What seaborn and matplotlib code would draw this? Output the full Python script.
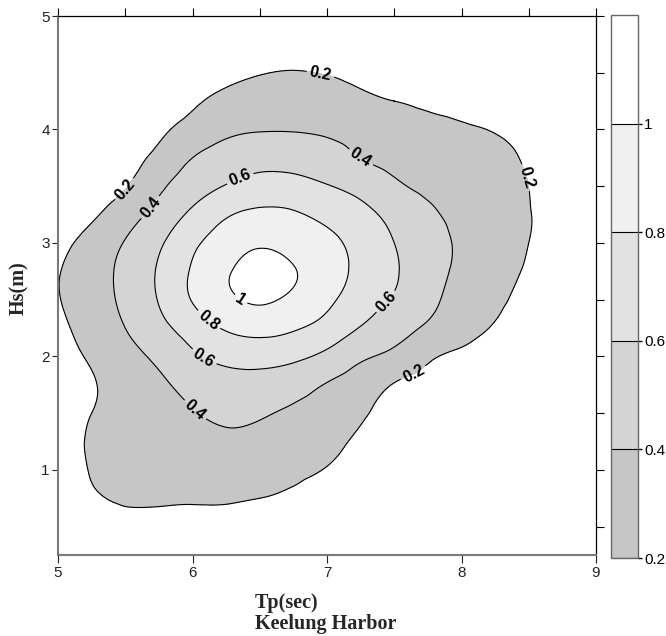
import numpy as np
import matplotlib
matplotlib.use("Agg")
import matplotlib.pyplot as plt
import matplotlib.tri as mtri
import seaborn as sns

# ---- data ----
TP = [5.0, 5.25, 5.5, 5.75, 6.0, 6.25, 6.5, 6.75, 7.0, 7.25, 7.5, 7.75, 8.0, 8.25, 8.5, 8.75, 9.0]
HS = [5.0, 4.75, 4.5, 4.25, 4.0, 3.75, 3.5, 3.25, 3.0, 2.75, 2.5, 2.25, 2.0, 1.75, 1.5, 1.25, 1.0, 0.75, 0.5, 0.25]
row_500 = [0, 0, 0, 0, 0, 0, 0, 0, 0, 0, 0, 0, 0, 0, 0, 0, 0]
row_475 = [0, 0, 0, 0, 0, 0.03, 0.07, 0.09, 0.06, 0.02, 0, 0, 0, 0, 0, 0, 0]
row_450 = [0, 0, 0, 0, 0.07, 0.14, 0.19, 0.21, 0.19, 0.14, 0.08, 0.04, 0, 0, 0, 0, 0]
row_425 = [0, 0, 0, 0.07, 0.17, 0.25, 0.29, 0.30, 0.28, 0.24, 0.20, 0.16, 0.12, 0.08, 0.01, 0, 0]
row_400 = [0, 0, 0.05, 0.16, 0.27, 0.36, 0.39, 0.39, 0.37, 0.33, 0.28, 0.25, 0.22, 0.19, 0.10, 0, 0]
row_375 = [0, 0, 0.12, 0.25, 0.40, 0.48, 0.52, 0.52, 0.48, 0.40, 0.35, 0.31, 0.28, 0.24, 0.17, 0.03, 0]
row_350 = [0, 0.08, 0.19, 0.36, 0.51, 0.61, 0.68, 0.67, 0.61, 0.53, 0.43, 0.37, 0.33, 0.27, 0.20, 0.07, 0]
row_325 = [0.06, 0.17, 0.31, 0.47, 0.64, 0.78, 0.84, 0.82, 0.75, 0.66, 0.54, 0.43, 0.35, 0.28, 0.21, 0.07, 0]
row_300 = [0.14, 0.27, 0.41, 0.57, 0.76, 0.90, 0.98, 0.93, 0.85, 0.73, 0.60, 0.48, 0.37, 0.29, 0.20, 0.06, 0]
row_275 = [0.19, 0.31, 0.45, 0.62, 0.82, 0.98, 1.05, 1.01, 0.89, 0.75, 0.62, 0.48, 0.36, 0.27, 0.17, 0.03, 0]
row_250 = [0.19, 0.31, 0.44, 0.61, 0.81, 0.96, 1.02, 0.96, 0.84, 0.70, 0.58, 0.45, 0.33, 0.24, 0.12, 0, 0]
row_225 = [0.15, 0.28, 0.40, 0.54, 0.69, 0.82, 0.87, 0.82, 0.73, 0.59, 0.48, 0.37, 0.27, 0.18, 0.05, 0, 0]
row_200 = [0.10, 0.23, 0.34, 0.44, 0.57, 0.65, 0.67, 0.64, 0.55, 0.43, 0.35, 0.23, 0.16, 0.08, 0, 0, 0]
row_175 = [0.05, 0.18, 0.29, 0.37, 0.46, 0.53, 0.53, 0.48, 0.39, 0.31, 0.19, 0.12, 0.05, 0, 0, 0, 0]
row_150 = [0.05, 0.20, 0.27, 0.34, 0.39, 0.44, 0.42, 0.37, 0.31, 0.23, 0.10, 0.01, 0, 0, 0, 0, 0]
row_125 = [0.09, 0.22, 0.27, 0.32, 0.34, 0.36, 0.35, 0.31, 0.25, 0.16, 0.04, 0, 0, 0, 0, 0, 0]
row_100 = [0.09, 0.21, 0.26, 0.27, 0.29, 0.29, 0.28, 0.24, 0.19, 0.08, 0, 0, 0, 0, 0, 0, 0]
row_075 = [0.05, 0.17, 0.22, 0.22, 0.22, 0.22, 0.20, 0.16, 0.08, 0, 0, 0, 0, 0, 0, 0, 0]
row_050 = [0, 0.07, 0.13, 0.13, 0.12, 0.11, 0.08, 0.04, 0, 0, 0, 0, 0, 0, 0, 0, 0]
row_025 = [0, 0, 0, 0, 0, 0, 0, 0, 0, 0, 0, 0, 0, 0, 0, 0, 0]
LEVELS = [0.2, 0.4, 0.6, 0.8, 1.0, 1.2]
LINE_LEVELS = [0.2, 0.4, 0.6, 0.8, 1.0]
CBAR_TICKS = [0.2, 0.4, 0.6, 0.8, 1.0]
CBAR_LABELS = ["0.2", "0.4", "0.6", "0.8", "1"]
X_TICKS = [5, 6, 7, 8, 9]
Y_TICKS = [1, 2, 3, 4, 5]

rows = [row_500, row_475, row_450, row_425, row_400, row_375, row_350, row_325,
        row_300, row_275, row_250, row_225, row_200, row_175, row_150, row_125,
        row_100, row_075, row_050, row_025]
Z = np.array(rows, float)
X, Y = np.meshgrid(np.array(TP), np.array(HS))

sns.set_theme(style="white")
plt.rcParams["font.family"] = ["Liberation Sans", "DejaVu Sans"]
SERIF = ["Liberation Serif", "DejaVu Serif"]

fig = plt.figure(figsize=(6.66, 6.36), dpi=100)
ax = fig.add_axes([58 / 666, 81 / 636, 538 / 666, 539 / 636])
cax = fig.add_axes([611 / 666, 78 / 636, 27 / 666, 543 / 636])

tri = mtri.Triangulation(X.ravel(), Y.ravel())
refiner = mtri.UniformTriRefiner(tri)
tri_f, z_f = refiner.refine_field(Z.ravel(), subdiv=4)

fills = ["#c6c6c6", "#d4d4d4", "#e2e2e2", "#f0f0f0", "#ffffff"]
cf = ax.tricontourf(tri_f, z_f, levels=LEVELS, colors=fills)
cs = ax.tricontour(tri_f, z_f, levels=LINE_LEVELS, colors="black", linewidths=0.8)

label_pos = [(6.95, 4.48), (8.49, 3.58), (7.64, 1.86), (5.50, 3.47),
             (5.68, 3.32), (7.25, 3.75), (6.02, 1.53),
             (6.35, 3.58), (7.45, 2.47), (6.09, 2.00),
             (6.12, 2.32), (6.34, 2.47)]
fmt = {0.2: "0.2", 0.4: "0.4", 0.6: "0.6", 0.8: "0.8", 1.0: "1"}
labels = ax.clabel(cs, fmt=fmt, fontsize=11.5, manual=label_pos, inline=True, inline_spacing=3)
for t in labels:
    t.set_fontweight("bold")
    t.set_color("black")

ax.set_xlim(5, 9)
ax.set_ylim(0.25, 5.0)
ax.set_xticks(X_TICKS)
ax.set_yticks(Y_TICKS)
ax.set_xticklabels([str(v) for v in X_TICKS])
ax.set_yticklabels([str(v) for v in Y_TICKS])
ax.tick_params(axis="both", direction="out", length=6, width=0.8, colors="#222222",
               labelsize=11, pad=2, bottom=True, left=True)
ax.tick_params(axis="y", length=4)
for side in ("left", "bottom"):
    ax.spines[side].set_color("#7a7a7a")
    ax.spines[side].set_linewidth(1.5)
for side in ("top", "right"):
    ax.spines[side].set_color("black")
    ax.spines[side].set_linewidth(0.9)

top = ax.secondary_xaxis("top")
top.set_xticks(np.arange(5, 9.01, 0.5))
top.tick_params(direction="out", length=6, width=0.8, labeltop=False, colors="black")
top.spines["top"].set_visible(False)
right = ax.secondary_yaxis("right")
right.set_yticks(np.arange(0.5, 5.01, 0.5))
right.tick_params(direction="out", length=6, width=0.8, labelright=False, colors="black")
right.spines["right"].set_visible(False)

cb = fig.colorbar(cf, cax=cax, ticks=CBAR_TICKS)
cb.add_lines(cs)
cb.set_ticklabels(CBAR_LABELS)
cb.ax.tick_params(direction="out", length=3, width=1.0, colors="black", pad=1.5,
                  labelsize=11)
cb.outline.set_edgecolor("#666666")
cb.outline.set_linewidth(1.0)

fig.text(19 / 666, 1 - 288 / 636, "Hs(m)", rotation=90, ha="center", va="center",
         family=SERIF, fontweight="bold", fontsize=14.5)
fig.text(255 / 666, 1 - 608 / 636, "Tp(sec)", ha="left", va="baseline",
         family=SERIF, fontweight="bold", fontsize=14.5)
fig.text(255 / 666, 1 - 629 / 636, "Keelung Harbor", ha="left", va="baseline",
         family=SERIF, fontweight="bold", fontsize=14.5)

fig.savefig("out.png", dpi=100)
